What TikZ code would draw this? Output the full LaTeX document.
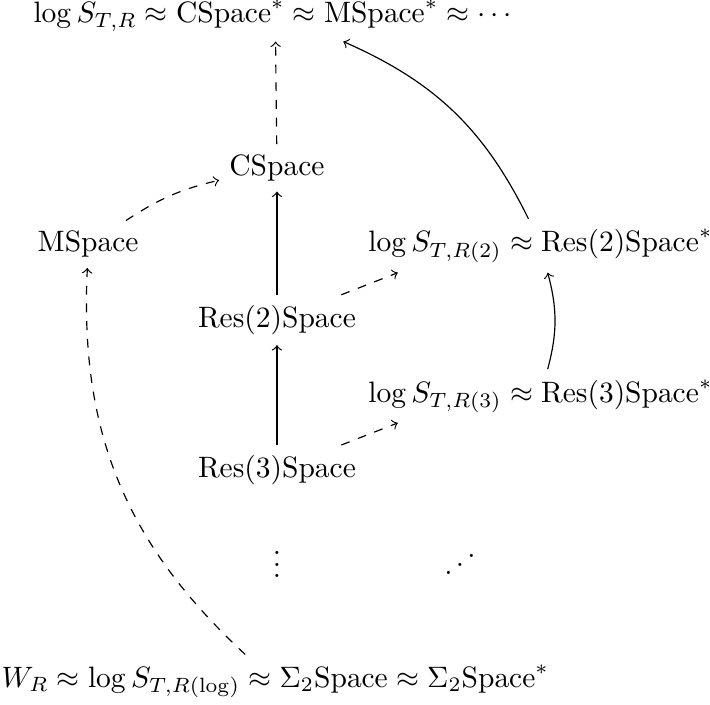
\documentclass[tikz,border=0pt]{standalone}
\usepackage{amsmath,amssymb}
\usepackage{tikz}
\usetikzlibrary{arrows.meta,positioning,calc}
\newcommand{\updots}{\mathinner{\mkern1mu\raise1pt\hbox{.}\mkern2mu
  \raise4pt\hbox{.}\mkern2mu\raise7pt\vbox{\kern7pt\hbox{.}}\mkern1mu}}

\begin{document}
\begin{tikzpicture}[>=to, every node/.style={anchor=base}]
  \useasboundingbox (0,0) rectangle (8.46,-8.39);
  \node (top) at (3.28,-0.27)
    {$\log S_{T,R} \approx \mathrm{CSpace}^* \approx \mathrm{MSpace}^* \approx \cdots$};
  \node (cspace) at (3.30,-2.09) {CSpace};
  \node (mspace) at (1.05,-3.00) {MSpace};
  \node (logtwo) at (6.44,-3.00) {$\log S_{T,R(2)} \approx \mathrm{Res}(2)\mathrm{Space}^*$};
  \node (restwo) at (3.30,-3.90) {Res(2)Space};
  \node (logthree) at (6.44,-4.79) {$\log S_{T,R(3)} \approx \mathrm{Res}(3)\mathrm{Space}^*$};
  \node (resthree) at (3.30,-5.69) {Res(3)Space};
  \node[anchor=center] (vdots) at (3.30,-6.62) {$\vdots$};
  \node[anchor=center] (iddots) at (5.48,-6.62) {$\updots$};
  \node (bottom) at (3.28,-8.19)
    {$W_R \approx \log S_{T,R(\log)} \approx \Sigma_2\mathrm{Space} \approx \Sigma_2\mathrm{Space}^*$};

  \draw[->,dashed] (cspace) -- (top);
  \draw[->,dashed] (mspace) to[bend left=10] (cspace);
  \draw[->] (restwo) -- (cspace);
  \draw[->] (resthree) -- (restwo);
  \draw[->,dashed] (restwo) -- ([xshift=-1.7cm]logtwo.south);
  \draw[->,dashed] (resthree) -- ([xshift=-1.7cm]logthree.south);
  \draw[->] (logthree) to[bend right=15] (logtwo);
  \draw[->] (logtwo) to[bend right=20] ([xshift=0.81cm]top.south);
  \draw[->,dashed] (bottom) to[bend left=25] (mspace);
\end{tikzpicture}
\end{document}
